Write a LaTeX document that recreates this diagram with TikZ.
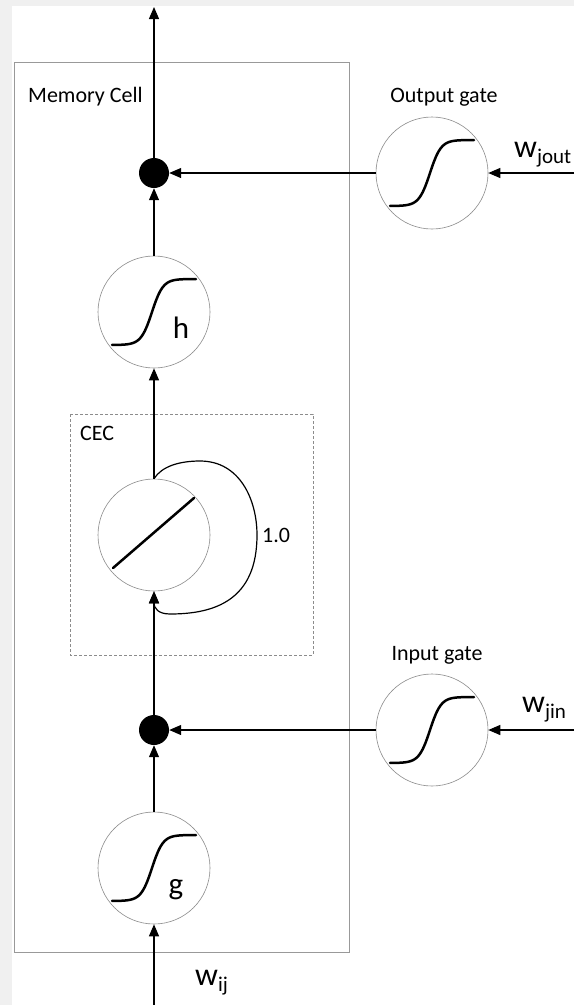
\documentclass[tikz,border=0pt]{standalone}
\usepackage{fontspec}
\setmainfont{Carlito}
\usetikzlibrary{arrows.meta}

\tikzset{
  unit/.style={circle, draw=black!45, line width=0.6pt, fill=white,
    minimum size=112pt, inner sep=0pt},
  junction/.style={circle, fill=black, minimum size=30pt, inner sep=0pt},
  link/.style={line width=1.2pt, -{Triangle[length=12pt,width=10pt]}},
  curve/.style={line width=2.5pt, line cap=round},
  lbl/.style={font=\fontsize{22}{26}\selectfont, inner sep=0pt},
  fn/.style={font=\fontsize{31}{34}\selectfont, inner sep=0pt},
}
% weight label: big w with a lowered index
\newcommand{\wlabel}[1]{{\fontsize{32}{32}\selectfont w}\raisebox{-6pt}{\fontsize{21}{21}\selectfont #1}}

\begin{document}
\begin{tikzpicture}[x=1pt, y=-1pt]
    \useasboundingbox (0,0) rectangle (574,1005);
    \fill[black!6] (0,0) rectangle (574,1005);
    \fill[white] (12,6) rectangle (574,1005);

    % Memory cell frame and CEC frame
    \draw[black!40, line width=0.8pt] (14,62) rectangle (349,952);
    \draw[black!45, line width=0.6pt, dash pattern=on 3pt off 2pt] (70,414) rectangle (313,655);
    \node[lbl, anchor=west] (mclabel) at (28,97) {Memory Cell};
    \node[lbl, anchor=west] (ceclabel) at (80,433) {CEC};

    % units along the cell
    \node[junction] (od) at (154,173) {};
    \node[unit] (h) at (154,312) {};
    \node[unit] (cec) at (154,535) {};
    \node[junction] (id) at (154,730) {};
    \node[unit] (g) at (154,868) {};

    % gates
    \node[unit] (og) at (432,173) {};
    \node[unit] (ig) at (432,730) {};
    \node[lbl] (oglabel) at (444,97) {Output gate};
    \node[lbl] (iglabel) at (437,655) {Input gate};

    \coordinate (top) at (154,7);
    \coordinate (bot) at (154,1005);
    \coordinate (jout) at (574,173);
    \coordinate (jin) at (574,730);

    % squashing curves
    \foreach \u in {h,g,og,ig}
        \draw[curve, shift={(\u.center)}] plot[domain=-42:42, samples=60, smooth] (\x,{-33*tanh((\x+2)/11)});
    \draw[curve, shift={(cec.center)}] (-41,33) -- (40,-37);
    \node[fn] (hlabel) at (181,328) {h};
    \node[fn] (glabel) at (176,890) {g};

    % connections
    \draw[link] (bot) -- (g);
    \draw[link] (g) -- (id);
    \draw[link] (id) -- (cec);
    \draw[link] (cec) -- (h);
    \draw[link] (h) -- (od);
    \draw[link] (od) -- (top);
    \draw[link] (og) -- (od);
    \draw[link] (jout) -- (og);
    \draw[link] (ig) -- (id);
    \draw[link] (jin) -- (ig);

    % constant error carousel
    \draw[link] (cec.north) .. controls (162,466) and (180,461) .. (200,461)
        .. controls (240,461) and (257,500) .. (257,535)
        .. controls (257,600) and (215,614) .. (170,614)
        .. controls (158,614) and (154,608) .. (cec.south);
    \node[lbl, anchor=west] (loop) at (262,535) {1.0};

    % weights
    \node[anchor=base west, inner sep=0pt] (wjout) at (514,157) {\wlabel{jout}};
    \node[anchor=base west, inner sep=0pt] (wjin) at (522,712) {\wlabel{jin}};
    \node[anchor=base west, inner sep=0pt] (wij) at (195,985) {\wlabel{ij}};
\end{tikzpicture}
\end{document}
